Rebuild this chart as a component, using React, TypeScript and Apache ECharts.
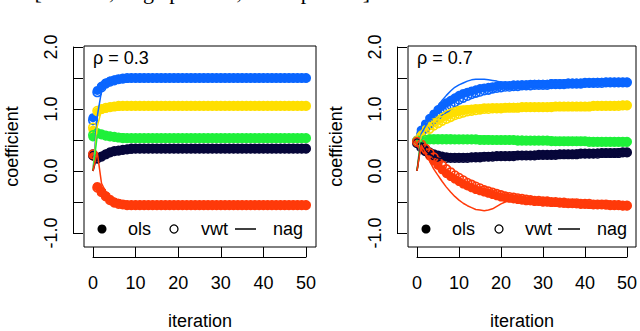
import React, { useEffect, useRef } from "react";
import * as echarts from "echarts";

// ---------- data ----------
const ITER = [
  0, 1, 2, 3, 4, 5, 6, 7, 8, 9, 10, 11, 12, 13, 14, 15, 16, 17, 18, 19, 20, 21, 22, 23, 24, 25,
  26, 27, 28, 29, 30, 31, 32, 33, 34, 35, 36, 37, 38, 39, 40, 41, 42, 43, 44, 45, 46, 47, 48, 49, 50,
];
const X_TICKS = [0, 10, 20, 30, 40, 50];
const Y_TICK_LABELS = ["-1.0", "0.0", "1.0", "2.0"];
const PANEL_TITLES = ["ρ = 0.3", "ρ = 0.7"];
const LEGEND_LABELS = ["ols", "vwt", "nag"];
const X_TITLE = "iteration";
const Y_TITLE = "coefficient";
const CAPTION = "[n = 100, large p = 500, small p = 50 ]";

// Left panel, rho = 0.3
const L_BLUE_OLS = [
  0.86, 1.3, 1.37, 1.42, 1.45, 1.47, 1.48, 1.49, 1.49, 1.5,
  1.5, 1.5, 1.5, 1.5, 1.5, 1.5, 1.5, 1.5, 1.5, 1.5,
  1.5, 1.5, 1.5, 1.5, 1.5, 1.5, 1.5, 1.5, 1.5, 1.5,
  1.5, 1.5, 1.5, 1.5, 1.5, 1.5, 1.5, 1.5, 1.5, 1.5,
  1.5, 1.5, 1.5, 1.5, 1.5, 1.5, 1.5, 1.5, 1.5, 1.5,
  1.5,
];
const L_BLUE_VWT = [
  0.82, 1.27, 1.35, 1.41, 1.44, 1.46, 1.48, 1.49, 1.5, 1.5,
  1.5, 1.5, 1.5, 1.5, 1.5, 1.5, 1.5, 1.5, 1.5, 1.5,
  1.5, 1.5, 1.5, 1.5, 1.5, 1.5, 1.5, 1.5, 1.5, 1.5,
  1.5, 1.5, 1.5, 1.5, 1.5, 1.5, 1.5, 1.5, 1.5, 1.5,
  1.5, 1.5, 1.5, 1.5, 1.5, 1.5, 1.5, 1.5, 1.5, 1.5,
  1.5,
];
const L_BLUE_NAG = [
  0.0, 0.88, 1.29, 1.39, 1.44, 1.47, 1.48, 1.49, 1.5, 1.5,
  1.5, 1.5, 1.5, 1.5, 1.5, 1.5, 1.5, 1.5, 1.5, 1.5,
  1.5, 1.5, 1.5, 1.5, 1.5, 1.5, 1.5, 1.5, 1.5, 1.5,
  1.5, 1.5, 1.5, 1.5, 1.5, 1.5, 1.5, 1.5, 1.5, 1.5,
  1.5, 1.5, 1.5, 1.5, 1.5, 1.5, 1.5, 1.5, 1.5, 1.5,
  1.5,
];
const L_YEL_OLS = [
  0.66, 0.95, 0.99, 1.01, 1.03, 1.04, 1.04, 1.05, 1.05, 1.05,
  1.05, 1.05, 1.05, 1.05, 1.05, 1.05, 1.05, 1.05, 1.05, 1.05,
  1.05, 1.05, 1.05, 1.05, 1.05, 1.05, 1.05, 1.05, 1.05, 1.05,
  1.05, 1.05, 1.05, 1.05, 1.05, 1.05, 1.05, 1.05, 1.05, 1.05,
  1.05, 1.05, 1.05, 1.05, 1.05, 1.05, 1.05, 1.05, 1.05, 1.05,
  1.05,
];
const L_YEL_VWT = [
  0.7, 0.97, 1.0, 1.02, 1.03, 1.04, 1.05, 1.05, 1.05, 1.05,
  1.05, 1.05, 1.05, 1.05, 1.05, 1.05, 1.05, 1.05, 1.05, 1.05,
  1.05, 1.05, 1.05, 1.05, 1.05, 1.05, 1.05, 1.05, 1.05, 1.05,
  1.05, 1.05, 1.05, 1.05, 1.05, 1.05, 1.05, 1.05, 1.05, 1.05,
  1.05, 1.05, 1.05, 1.05, 1.05, 1.05, 1.05, 1.05, 1.05, 1.05,
  1.05,
];
const L_YEL_NAG = [
  0.0, 0.72, 0.98, 1.01, 1.03, 1.04, 1.05, 1.05, 1.05, 1.05,
  1.05, 1.05, 1.05, 1.05, 1.05, 1.05, 1.05, 1.05, 1.05, 1.05,
  1.05, 1.05, 1.05, 1.05, 1.05, 1.05, 1.05, 1.05, 1.05, 1.05,
  1.05, 1.05, 1.05, 1.05, 1.05, 1.05, 1.05, 1.05, 1.05, 1.05,
  1.05, 1.05, 1.05, 1.05, 1.05, 1.05, 1.05, 1.05, 1.05, 1.05,
  1.05,
];
const L_GRN_OLS = [
  0.55, 0.6, 0.59, 0.57, 0.56, 0.55, 0.54, 0.54, 0.53, 0.53,
  0.53, 0.53, 0.53, 0.53, 0.53, 0.53, 0.53, 0.53, 0.53, 0.53,
  0.53, 0.53, 0.53, 0.53, 0.53, 0.53, 0.53, 0.53, 0.53, 0.53,
  0.53, 0.53, 0.53, 0.53, 0.53, 0.53, 0.53, 0.53, 0.53, 0.53,
  0.53, 0.53, 0.53, 0.53, 0.53, 0.53, 0.53, 0.53, 0.53, 0.53,
  0.53,
];
const L_GRN_VWT = [
  0.58, 0.61, 0.59, 0.57, 0.56, 0.55, 0.54, 0.53, 0.53, 0.53,
  0.53, 0.53, 0.53, 0.53, 0.53, 0.53, 0.53, 0.53, 0.53, 0.53,
  0.53, 0.53, 0.53, 0.53, 0.53, 0.53, 0.53, 0.53, 0.53, 0.53,
  0.53, 0.53, 0.53, 0.53, 0.53, 0.53, 0.53, 0.53, 0.53, 0.53,
  0.53, 0.53, 0.53, 0.53, 0.53, 0.53, 0.53, 0.53, 0.53, 0.53,
  0.53,
];
const L_GRN_NAG = [
  0.0, 0.58, 0.6, 0.58, 0.56, 0.55, 0.54, 0.54, 0.53, 0.53,
  0.53, 0.53, 0.53, 0.53, 0.53, 0.53, 0.53, 0.53, 0.53, 0.53,
  0.53, 0.53, 0.53, 0.53, 0.53, 0.53, 0.53, 0.53, 0.53, 0.53,
  0.53, 0.53, 0.53, 0.53, 0.53, 0.53, 0.53, 0.53, 0.53, 0.53,
  0.53, 0.53, 0.53, 0.53, 0.53, 0.53, 0.53, 0.53, 0.53, 0.53,
  0.53,
];
const L_NAV_OLS = [
  0.28, 0.22, 0.24, 0.27, 0.3, 0.32, 0.33, 0.34, 0.35, 0.35,
  0.36, 0.36, 0.36, 0.36, 0.36, 0.36, 0.36, 0.36, 0.36, 0.36,
  0.36, 0.36, 0.36, 0.36, 0.36, 0.36, 0.36, 0.36, 0.36, 0.36,
  0.36, 0.36, 0.36, 0.36, 0.36, 0.36, 0.36, 0.36, 0.36, 0.36,
  0.36, 0.36, 0.36, 0.36, 0.36, 0.36, 0.36, 0.36, 0.36, 0.36,
  0.36,
];
const L_NAV_VWT = [
  0.25, 0.2, 0.23, 0.27, 0.3, 0.32, 0.33, 0.34, 0.35, 0.36,
  0.36, 0.36, 0.36, 0.36, 0.36, 0.36, 0.36, 0.36, 0.36, 0.36,
  0.36, 0.36, 0.36, 0.36, 0.36, 0.36, 0.36, 0.36, 0.36, 0.36,
  0.36, 0.36, 0.36, 0.36, 0.36, 0.36, 0.36, 0.36, 0.36, 0.36,
  0.36, 0.36, 0.36, 0.36, 0.36, 0.36, 0.36, 0.36, 0.36, 0.36,
  0.36,
];
const L_NAV_NAG = [
  0.0, 0.26, 0.21, 0.25, 0.29, 0.31, 0.33, 0.34, 0.35, 0.36,
  0.36, 0.36, 0.36, 0.36, 0.36, 0.36, 0.36, 0.36, 0.36, 0.36,
  0.36, 0.36, 0.36, 0.36, 0.36, 0.36, 0.36, 0.36, 0.36, 0.36,
  0.36, 0.36, 0.36, 0.36, 0.36, 0.36, 0.36, 0.36, 0.36, 0.36,
  0.36, 0.36, 0.36, 0.36, 0.36, 0.36, 0.36, 0.36, 0.36, 0.36,
  0.36,
];
const L_RED_OLS = [
  0.24, -0.25, -0.33, -0.4, -0.46, -0.5, -0.52, -0.54, -0.55, -0.55,
  -0.55, -0.55, -0.55, -0.55, -0.55, -0.55, -0.55, -0.55, -0.55, -0.55,
  -0.55, -0.55, -0.55, -0.55, -0.55, -0.55, -0.55, -0.55, -0.55, -0.55,
  -0.55, -0.55, -0.55, -0.55, -0.55, -0.55, -0.55, -0.55, -0.55, -0.55,
  -0.55, -0.55, -0.55, -0.55, -0.55, -0.55, -0.55, -0.55, -0.55, -0.55,
  -0.55,
];
const L_RED_VWT = [
  0.27, -0.27, -0.34, -0.41, -0.47, -0.51, -0.53, -0.54, -0.55, -0.55,
  -0.55, -0.55, -0.55, -0.55, -0.55, -0.55, -0.55, -0.55, -0.55, -0.55,
  -0.55, -0.55, -0.55, -0.55, -0.55, -0.55, -0.55, -0.55, -0.55, -0.55,
  -0.55, -0.55, -0.55, -0.55, -0.55, -0.55, -0.55, -0.55, -0.55, -0.55,
  -0.55, -0.55, -0.55, -0.55, -0.55, -0.55, -0.55, -0.55, -0.55, -0.55,
  -0.55,
];
const L_RED_NAG = [
  0.0, 0.3, -0.2, -0.34, -0.43, -0.49, -0.52, -0.54, -0.55, -0.55,
  -0.55, -0.55, -0.55, -0.55, -0.55, -0.55, -0.55, -0.55, -0.55, -0.55,
  -0.55, -0.55, -0.55, -0.55, -0.55, -0.55, -0.55, -0.55, -0.55, -0.55,
  -0.55, -0.55, -0.55, -0.55, -0.55, -0.55, -0.55, -0.55, -0.55, -0.55,
  -0.55, -0.55, -0.55, -0.55, -0.55, -0.55, -0.55, -0.55, -0.55, -0.55,
  -0.55,
];

// Right panel, rho = 0.7
const R_BLUE_OLS = [
  0.5, 0.66, 0.76, 0.85, 0.92, 0.99, 1.05, 1.1, 1.14, 1.18,
  1.22, 1.25, 1.27, 1.29, 1.31, 1.33, 1.34, 1.35, 1.36, 1.37,
  1.38, 1.38, 1.38, 1.39, 1.39, 1.39, 1.39, 1.4, 1.4, 1.4,
  1.4, 1.4, 1.41, 1.41, 1.41, 1.41, 1.42, 1.42, 1.42, 1.42,
  1.42, 1.42, 1.42, 1.43, 1.43, 1.43, 1.43, 1.43, 1.43, 1.43,
  1.43,
];
const R_BLUE_VWT = [
  0.48, 0.6, 0.69, 0.77, 0.84, 0.91, 0.97, 1.02, 1.07, 1.11,
  1.15, 1.18, 1.21, 1.24, 1.26, 1.28, 1.3, 1.31, 1.33, 1.34,
  1.35, 1.36, 1.36, 1.37, 1.37, 1.38, 1.38, 1.38, 1.39, 1.39,
  1.39, 1.39, 1.4, 1.4, 1.4, 1.4, 1.41, 1.41, 1.41, 1.41,
  1.42, 1.42, 1.42, 1.42, 1.42, 1.43, 1.43, 1.43, 1.43, 1.43,
  1.43,
];
const R_BLUE_NAG = [
  0.0, 0.6, 0.72, 0.84, 0.95, 1.05, 1.14, 1.22, 1.29, 1.35,
  1.39, 1.42, 1.45, 1.47, 1.48, 1.48, 1.48, 1.47, 1.46, 1.45,
  1.43, 1.42, 1.41, 1.4, 1.4, 1.39, 1.39, 1.4, 1.4, 1.4,
  1.4, 1.4, 1.41, 1.41, 1.41, 1.41, 1.42, 1.42, 1.42, 1.42,
  1.42, 1.42, 1.42, 1.43, 1.43, 1.43, 1.43, 1.43, 1.43, 1.43,
  1.43,
];
const R_YEL_OLS = [
  0.5, 0.6, 0.67, 0.73, 0.78, 0.82, 0.86, 0.89, 0.92, 0.94,
  0.96, 0.98, 0.99, 1.0, 1.01, 1.01, 1.02, 1.02, 1.02, 1.02,
  1.02, 1.02, 1.03, 1.03, 1.03, 1.03, 1.03, 1.03, 1.03, 1.03,
  1.03, 1.03, 1.04, 1.04, 1.04, 1.04, 1.04, 1.04, 1.04, 1.04,
  1.04, 1.04, 1.05, 1.05, 1.05, 1.05, 1.05, 1.05, 1.06, 1.06,
  1.06,
];
const R_YEL_VWT = [
  0.48, 0.56, 0.62, 0.68, 0.73, 0.77, 0.81, 0.84, 0.87, 0.9,
  0.92, 0.94, 0.96, 0.97, 0.98, 0.99, 1.0, 1.0, 1.01, 1.01,
  1.01, 1.02, 1.02, 1.02, 1.02, 1.03, 1.03, 1.03, 1.03, 1.03,
  1.03, 1.03, 1.03, 1.04, 1.04, 1.04, 1.04, 1.04, 1.04, 1.04,
  1.04, 1.04, 1.05, 1.05, 1.05, 1.05, 1.05, 1.05, 1.05, 1.06,
  1.06,
];
const R_YEL_NAG = [
  0.0, 0.56, 0.66, 0.75, 0.82, 0.88, 0.93, 0.97, 1.0, 1.02,
  1.04, 1.05, 1.05, 1.05, 1.05, 1.05, 1.04, 1.04, 1.03, 1.03,
  1.03, 1.03, 1.03, 1.03, 1.03, 1.03, 1.03, 1.03, 1.03, 1.03,
  1.03, 1.03, 1.04, 1.04, 1.04, 1.04, 1.04, 1.04, 1.04, 1.04,
  1.04, 1.04, 1.05, 1.05, 1.05, 1.05, 1.05, 1.05, 1.06, 1.06,
  1.06,
];
const R_GRN_OLS = [
  0.48, 0.5, 0.51, 0.52, 0.52, 0.52, 0.52, 0.52, 0.52, 0.51,
  0.51, 0.51, 0.51, 0.51, 0.51, 0.51, 0.51, 0.51, 0.5, 0.5,
  0.5, 0.5, 0.5, 0.5, 0.5, 0.5, 0.49, 0.49, 0.49, 0.49,
  0.49, 0.49, 0.49, 0.48, 0.48, 0.48, 0.48, 0.48, 0.48, 0.48,
  0.48, 0.48, 0.47, 0.47, 0.47, 0.47, 0.47, 0.47, 0.47, 0.47,
  0.47,
];
const R_GRN_VWT = [
  0.47, 0.49, 0.5, 0.51, 0.51, 0.51, 0.51, 0.51, 0.51, 0.51,
  0.51, 0.51, 0.51, 0.51, 0.51, 0.5, 0.5, 0.5, 0.5, 0.5,
  0.5, 0.5, 0.5, 0.5, 0.49, 0.49, 0.49, 0.49, 0.49, 0.49,
  0.49, 0.49, 0.48, 0.48, 0.48, 0.48, 0.48, 0.48, 0.48, 0.48,
  0.48, 0.47, 0.47, 0.47, 0.47, 0.47, 0.47, 0.47, 0.47, 0.47,
  0.47,
];
const R_GRN_NAG = [
  0.0, 0.5, 0.53, 0.54, 0.54, 0.53, 0.53, 0.52, 0.52, 0.52,
  0.51, 0.51, 0.51, 0.51, 0.51, 0.51, 0.51, 0.51, 0.5, 0.5,
  0.5, 0.5, 0.5, 0.5, 0.5, 0.5, 0.49, 0.49, 0.49, 0.49,
  0.49, 0.49, 0.49, 0.48, 0.48, 0.48, 0.48, 0.48, 0.48, 0.48,
  0.48, 0.48, 0.47, 0.47, 0.47, 0.47, 0.47, 0.47, 0.47, 0.47,
  0.47,
];
const R_NAV_OLS = [
  0.46, 0.41, 0.35, 0.31, 0.28, 0.26, 0.24, 0.23, 0.22, 0.22,
  0.22, 0.22, 0.22, 0.22, 0.23, 0.23, 0.23, 0.23, 0.24, 0.24,
  0.24, 0.24, 0.24, 0.25, 0.25, 0.25, 0.25, 0.25, 0.26, 0.26,
  0.26, 0.26, 0.26, 0.27, 0.27, 0.27, 0.27, 0.27, 0.28, 0.28,
  0.28, 0.28, 0.28, 0.29, 0.29, 0.29, 0.29, 0.29, 0.3, 0.3,
  0.3,
];
const R_NAV_VWT = [
  0.45, 0.38, 0.32, 0.28, 0.25, 0.23, 0.22, 0.21, 0.21, 0.21,
  0.21, 0.21, 0.21, 0.22, 0.22, 0.22, 0.23, 0.23, 0.23, 0.24,
  0.24, 0.24, 0.24, 0.24, 0.25, 0.25, 0.25, 0.25, 0.25, 0.26,
  0.26, 0.26, 0.26, 0.26, 0.27, 0.27, 0.27, 0.27, 0.27, 0.28,
  0.28, 0.28, 0.28, 0.28, 0.29, 0.29, 0.29, 0.29, 0.29, 0.3,
  0.3,
];
const R_NAV_NAG = [
  0.0, 0.46, 0.33, 0.27, 0.23, 0.21, 0.2, 0.2, 0.2, 0.21,
  0.21, 0.22, 0.22, 0.22, 0.23, 0.23, 0.23, 0.23, 0.24, 0.24,
  0.24, 0.24, 0.24, 0.25, 0.25, 0.25, 0.25, 0.25, 0.26, 0.26,
  0.26, 0.26, 0.26, 0.27, 0.27, 0.27, 0.27, 0.27, 0.28, 0.28,
  0.28, 0.28, 0.28, 0.29, 0.29, 0.29, 0.29, 0.29, 0.3, 0.3,
  0.3,
];
const R_RED_OLS = [
  0.45, 0.4, 0.32, 0.24, 0.16, 0.09, 0.02, -0.04, -0.09, -0.13,
  -0.17, -0.21, -0.24, -0.27, -0.3, -0.32, -0.34, -0.36, -0.38, -0.4,
  -0.42, -0.43, -0.44, -0.45, -0.46, -0.47, -0.48, -0.48, -0.49, -0.49,
  -0.5, -0.5, -0.51, -0.51, -0.51, -0.52, -0.52, -0.52, -0.53, -0.53,
  -0.53, -0.54, -0.54, -0.54, -0.54, -0.55, -0.55, -0.55, -0.55, -0.56,
  -0.56,
];
const R_RED_VWT = [
  0.47, 0.43, 0.36, 0.29, 0.22, 0.15, 0.09, 0.03, -0.02, -0.07,
  -0.11, -0.15, -0.19, -0.22, -0.25, -0.28, -0.31, -0.33, -0.35, -0.37,
  -0.39, -0.41, -0.42, -0.43, -0.44, -0.45, -0.46, -0.47, -0.48, -0.48,
  -0.49, -0.49, -0.5, -0.5, -0.51, -0.51, -0.52, -0.52, -0.52, -0.53,
  -0.53, -0.53, -0.54, -0.54, -0.54, -0.54, -0.55, -0.55, -0.55, -0.56,
  -0.56,
];
const R_RED_NAG = [
  0.0, 0.42, 0.3, 0.16, 0.03, -0.07, -0.17, -0.26, -0.34, -0.41,
  -0.47, -0.52, -0.56, -0.59, -0.62, -0.63, -0.64, -0.63, -0.61, -0.57,
  -0.53, -0.5, -0.48, -0.47, -0.47, -0.47, -0.48, -0.48, -0.49, -0.49,
  -0.5, -0.5, -0.51, -0.51, -0.51, -0.52, -0.52, -0.52, -0.53, -0.53,
  -0.53, -0.54, -0.54, -0.54, -0.54, -0.55, -0.55, -0.55, -0.55, -0.56,
  -0.56,
];

// ---------- styles ----------
const COLORS = ["#0a66ff", "#ffdf00", "#1ff03a", "#07073a", "#ff3a0a"];
const FONT = "Liberation Sans";

const PANELS = [
  {
    title: PANEL_TITLES[0],
    sets: [
      [L_BLUE_OLS, L_BLUE_VWT, L_BLUE_NAG],
      [L_YEL_OLS, L_YEL_VWT, L_YEL_NAG],
      [L_GRN_OLS, L_GRN_VWT, L_GRN_NAG],
      [L_NAV_OLS, L_NAV_VWT, L_NAV_NAG],
      [L_RED_OLS, L_RED_VWT, L_RED_NAG],
    ],
    box: { left: 84, top: 46, width: 232, height: 201 },
    axis: { left: 93, top: 47, width: 213, height: 186 },
  },
  {
    title: PANEL_TITLES[1],
    sets: [
      [R_BLUE_OLS, R_BLUE_VWT, R_BLUE_NAG],
      [R_YEL_OLS, R_YEL_VWT, R_YEL_NAG],
      [R_GRN_OLS, R_GRN_VWT, R_GRN_NAG],
      [R_NAV_OLS, R_NAV_VWT, R_NAV_NAG],
      [R_RED_OLS, R_RED_VWT, R_RED_NAG],
    ],
    box: { left: 408, top: 46, width: 228, height: 201 },
    axis: { left: 417, top: 47, width: 213, height: 186 },
  },
];

function toPairs(arr: number[]) {
  return ITER.map((x, i) => [x, arr[i]]);
}

export default function App() {
  const ref = useRef<HTMLDivElement>(null);

  useEffect(() => {
    if (!ref.current) return;
    const chart = echarts.init(ref.current, null, { renderer: "svg" });

    const grid: any[] = [];
    const xAxis: any[] = [];
    const yAxis: any[] = [];
    const series: any[] = [];
    const graphic: any[] = [];

    PANELS.forEach((p, pi) => {
      const boxIdx = pi * 2;
      const axIdx = pi * 2 + 1;
      grid.push({
        ...p.box,
        show: true,
        borderColor: "#000",
        borderWidth: 1,
        backgroundColor: "transparent",
      });
      grid.push({ ...p.axis, show: false });

      // hidden axes for the framed box
      xAxis.push({ type: "value", gridIndex: boxIdx, min: 0, max: 1, show: false });
      yAxis.push({ type: "value", gridIndex: boxIdx, min: 0, max: 1, show: false });

      // R-style detached axes
      xAxis.push({
        type: "value",
        gridIndex: axIdx,
        min: X_TICKS[0],
        max: X_TICKS[X_TICKS.length - 1],
        interval: 10,
        position: "bottom",
        offset: 24,
        axisLine: { show: true, onZero: false, lineStyle: { color: "#000", width: 1 } },
        axisTick: { show: true, inside: true, length: 10, lineStyle: { color: "#000", width: 1 } },
        axisLabel: { color: "#000", fontSize: 18, fontFamily: FONT, margin: 17 },
        splitLine: { show: false },
      });
      yAxis.push({
        type: "value",
        gridIndex: axIdx,
        min: -1,
        max: 2,
        interval: 0.5,
        position: "left",
        offset: 20,
        axisLine: { show: true, onZero: false, lineStyle: { color: "#000", width: 1 } },
        axisTick: { show: true, inside: true, length: 10, lineStyle: { color: "#000", width: 1 } },
        axisLabel: {
          color: "#000",
          fontSize: 18,
          fontFamily: FONT,
          rotate: 90,
          margin: 13,
          formatter: (v: number) => {
            const s = v.toFixed(1);
            return Y_TICK_LABELS.indexOf(s) >= 0 ? s : "";
          },
        },
        splitLine: { show: false },
      });

      // points first
      p.sets.forEach((set, ci) => {
        const color = COLORS[ci];
        series.push({
          type: "scatter",
          name: "ols",
          xAxisIndex: axIdx,
          yAxisIndex: axIdx,
          data: toPairs(set[0]),
          symbol: "circle",
          symbolSize: 9,
          clip: false,
          itemStyle: { color, opacity: 1 },
          z: 2,
        });
        series.push({
          type: "scatter",
          name: "vwt",
          xAxisIndex: axIdx,
          yAxisIndex: axIdx,
          data: toPairs(set[1]),
          symbol: "circle",
          symbolSize: 8.5,
          clip: false,
          itemStyle: { color: "rgba(0,0,0,0)", borderColor: color, borderWidth: 1.6, opacity: 1 },
          z: 3,
        });
      });
      // lines on top
      p.sets.forEach((set, ci) => {
        const color = COLORS[ci];
        series.push({
          type: "line",
          name: "nag",
          xAxisIndex: axIdx,
          yAxisIndex: axIdx,
          data: toPairs(set[2]),
          showSymbol: false,
          symbol: "none",
          clip: false,
          lineStyle: { color, width: 1.5 },
          z: 4,
        });
      });

      const boxCx = p.box.left + p.box.width / 2;
      const boxCy = p.box.top + p.box.height / 2;

      // axis titles
      graphic.push({
        type: "text",
        x: boxCx,
        y: 321,
        style: { text: X_TITLE, fontSize: 18, fontFamily: FONT, fill: "#000", align: "center", verticalAlign: "middle" },
      });
      graphic.push({
        type: "text",
        x: p.box.left - 72,
        y: boxCy,
        rotation: Math.PI / 2,
        style: { text: Y_TITLE, fontSize: 18, fontFamily: FONT, fill: "#000", align: "center", verticalAlign: "middle" },
      });

      // panel label
      graphic.push({
        type: "text",
        x: p.axis.left,
        y: 58,
        style: {
          text: p.title,
          fontSize: 18,
          fontFamily: FONT,
          fill: "#000",
          verticalAlign: "middle",
        },
      });

      // legend inside box (R legend style)
      const lx = p.box.left;
      const ly = 229;
      const legendOffsets = pi === 0
        ? { dot: 18, ols: 44, circ: 90, vwt: 117, l1: 151, l2: 172, nag: 189 }
        : { dot: 18, ols: 44, circ: 91, vwt: 117, l1: 150, l2: 172, nag: 189 };
      graphic.push({
        type: "circle",
        shape: { cx: lx + legendOffsets.dot, cy: ly, r: 4.5 },
        style: { fill: "#000" },
      });
      graphic.push({
        type: "text",
        x: lx + legendOffsets.ols,
        y: ly,
        style: { text: LEGEND_LABELS[0], fontSize: 18, fontFamily: FONT, fill: "#000", verticalAlign: "middle" },
      });
      graphic.push({
        type: "circle",
        shape: { cx: lx + legendOffsets.circ, cy: ly, r: 4 },
        style: { fill: "none", stroke: "#000", lineWidth: 1.3 },
      });
      graphic.push({
        type: "text",
        x: lx + legendOffsets.vwt,
        y: ly,
        style: { text: LEGEND_LABELS[1], fontSize: 18, fontFamily: FONT, fill: "#000", verticalAlign: "middle" },
      });
      graphic.push({
        type: "line",
        shape: { x1: lx + legendOffsets.l1, y1: ly, x2: lx + legendOffsets.l2, y2: ly },
        style: { stroke: "#000", lineWidth: 1.5 },
      });
      graphic.push({
        type: "text",
        x: lx + legendOffsets.nag,
        y: ly,
        style: { text: LEGEND_LABELS[2], fontSize: 18, fontFamily: FONT, fill: "#000", verticalAlign: "middle" },
      });
    });

    // cropped caption at the very top of the figure (only its lower edge is in view)
    graphic.push({
      type: "text",
      x: 370,
      y: -9,
      style: {
        text: CAPTION,
        fontSize: 22,
        fontFamily: "Liberation Serif",
        fill: "#000",
        align: "right",
        verticalAlign: "middle",
      },
    });

    chart.setOption({
      animation: false,
      backgroundColor: "#fff",
      textStyle: { fontFamily: FONT },
      grid,
      xAxis,
      yAxis,
      series,
      graphic,
    });

    return () => chart.dispose();
  }, []);

  return (
    <div
      ref={ref}
      style={{ position: "absolute", left: 0, top: 0, width: 640, height: 331 }}
    />
  );
}
